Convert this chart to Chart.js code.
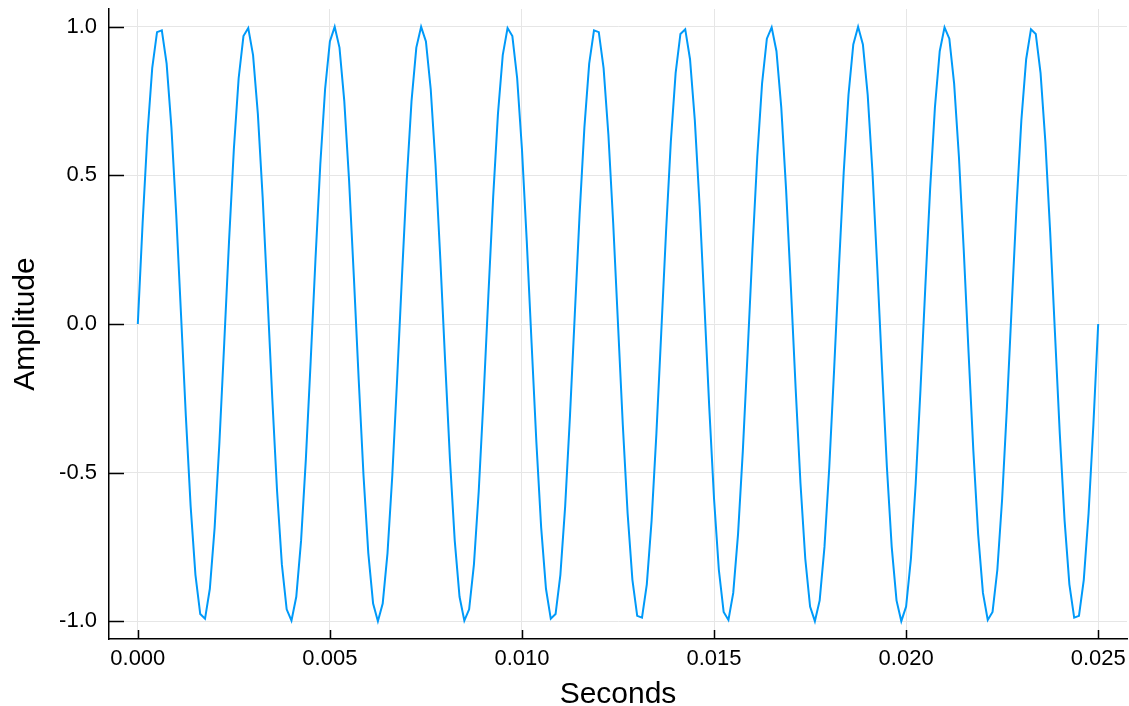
<!DOCTYPE html>
<html>
<head>
<meta charset="utf-8">
<title>Amplitude vs Seconds</title>
<script src="https://cdn.jsdelivr.net/npm/chart.js@4/dist/chart.umd.min.js"></script>
<style>
  html, body { margin: 0; padding: 0; background: #fff; }
  #wave { display: block; }
</style>
</head>
<body>
<canvas id="wave" width="1129" height="706"></canvas>
<script>
"use strict";

// samples (one every 1/8000 s)
const sampleRate = 8000;
const amplitude = [
   0, 0.339, 0.637, 0.861, 0.982, 0.988, 0.876, 0.661, 0.368, 0.031,
  -0.309, -0.613, -0.844, -0.976, -0.992, -0.891, -0.685, -0.397, -0.063, 0.279,
   0.588, 0.827, 0.969, 0.996, 0.905, 0.707, 0.426, 0.094, -0.249, -0.562,
  -0.809, -0.960, -0.998, -0.918, -0.729, -0.454, -0.125, 0.218, 0.536, 0.790,
   0.951, 1.000, 0.930, 0.750, 0.482, 0.156, -0.187, -0.509, -0.771, -0.941,
  -1.000, -0.941, -0.771, -0.509, -0.187, 0.156, 0.482, 0.750, 0.930, 1.000,
   0.951, 0.790, 0.536, 0.218, -0.125, -0.454, -0.729, -0.918, -0.998, -0.960,
  -0.809, -0.562, -0.249, 0.094, 0.426, 0.707, 0.905, 0.996, 0.969, 0.827,
   0.588, 0.279, -0.063, -0.397, -0.685, -0.891, -0.992, -0.976, -0.844, -0.613,
  -0.309, 0.031, 0.368, 0.661, 0.876, 0.988, 0.982, 0.861, 0.637, 0.339,
   0, -0.339, -0.637, -0.861, -0.982, -0.988, -0.876, -0.661, -0.368, -0.031,
   0.309, 0.613, 0.844, 0.976, 0.992, 0.891, 0.685, 0.397, 0.063, -0.279,
  -0.588, -0.827, -0.969, -0.996, -0.905, -0.707, -0.426, -0.094, 0.249, 0.562,
   0.809, 0.960, 0.998, 0.918, 0.729, 0.454, 0.125, -0.218, -0.536, -0.790,
  -0.951, -1.000, -0.930, -0.750, -0.482, -0.156, 0.187, 0.509, 0.771, 0.941,
   1.000, 0.941, 0.771, 0.509, 0.187, -0.156, -0.482, -0.750, -0.930, -1.000,
  -0.951, -0.790, -0.536, -0.218, 0.125, 0.454, 0.729, 0.918, 0.998, 0.960,
   0.809, 0.562, 0.249, -0.094, -0.426, -0.707, -0.905, -0.996, -0.969, -0.827,
  -0.588, -0.279, 0.063, 0.397, 0.685, 0.891, 0.992, 0.976, 0.844, 0.613,
   0.309, -0.031, -0.368, -0.661, -0.876, -0.988, -0.982, -0.861, -0.637, -0.339,
   0
];
const seconds = amplitude.map((_, i) => i / sampleRate);

const xTicks = [0, 0.005, 0.010, 0.015, 0.020, 0.025];
const xTickLabels = ['0.000', '0.005', '0.010', '0.015', '0.020', '0.025'];
const yTicks = [-1.0, -0.5, 0.0, 0.5, 1.0];
const yTickLabels = ['-1.0', '-0.5', '0.0', '0.5', '1.0'];

const fontFamily = '"Liberation Sans", Arial, Helvetica, sans-serif';
const lineColor = '#009af9';

// small tick marks drawn on the inside of the axes
const innerTicks = {
  id: 'innerTicks',
  afterDraw(chart) {
    const ctx = chart.ctx;
    const x = chart.scales.x;
    const y = chart.scales.y;
    const area = chart.chartArea;
    ctx.save();
    ctx.strokeStyle = '#000';
    ctx.lineWidth = 1.5;
    ctx.beginPath();
    xTicks.forEach(v => {
      const px = Math.round(x.getPixelForValue(v)) + 0.5;
      ctx.moveTo(px, area.bottom);
      ctx.lineTo(px, area.bottom - 9);
    });
    yTicks.forEach(v => {
      const py = Math.round(y.getPixelForValue(v)) + 0.5;
      ctx.moveTo(area.left, py);
      ctx.lineTo(area.left + 15, py);
    });
    ctx.stroke();
    ctx.restore();
  }
};

const ctx = document.getElementById('wave').getContext('2d');
const waveChart = new Chart(ctx, {
  type: 'line',
  data: {
    datasets: [{
      label: 'y1',
      data: seconds.map((t, i) => ({ x: t, y: amplitude[i] })),
      borderColor: lineColor,
      borderWidth: 2,
      pointRadius: 0,
      tension: 0,
      fill: false
    }]
  },
  options: {
    responsive: false,
    devicePixelRatio: 1,
    animation: false,
    layout: { padding: { top: 9, right: 2, left: 0, bottom: 0 } },
    plugins: {
      legend: { display: false },
      tooltip: { enabled: false }
    },
    scales: {
      x: {
        type: 'linear',
        min: -0.00075,
        max: 0.02575,
        afterBuildTicks: (scale) => { scale.ticks = xTicks.map(v => ({ value: v })); },
        afterFit: (scale) => { scale.height = 67; scale.paddingLeft = 0; scale.paddingRight = 0; },
        ticks: {
          color: '#000',
          padding: 7,
          maxRotation: 0,
          font: { family: fontFamily, size: 22 },
          callback: (v, i) => xTickLabels[i]
        },
        grid: { color: '#e6e6e6', lineWidth: 1, drawTicks: false },
        border: { color: '#000', width: 1.5 },
        title: {
          display: true,
          text: 'Seconds',
          color: '#000',
          font: { family: fontFamily, size: 30, lineHeight: 1 },
          padding: { top: 0, bottom: -4 }
        }
      },
      y: {
        type: 'linear',
        min: -1.06,
        max: 1.06,
        afterBuildTicks: (scale) => { scale.ticks = yTicks.map(v => ({ value: v })); },
        afterFit: (scale) => { scale.width = 109; scale.paddingTop = 0; scale.paddingBottom = 0; },
        ticks: {
          color: '#000',
          padding: 12,
          font: { family: fontFamily, size: 22 },
          callback: (v, i) => yTickLabels[i]
        },
        grid: { color: '#e6e6e6', lineWidth: 1, drawTicks: false },
        border: { color: '#000', width: 1.5 },
        title: {
          display: true,
          text: 'Amplitude',
          color: '#000',
          font: { family: fontFamily, size: 30, lineHeight: 1 },
          padding: { top: 11, bottom: 0 }
        }
      }
    }
  },
  plugins: [innerTicks]
});
</script>
</body>
</html>
